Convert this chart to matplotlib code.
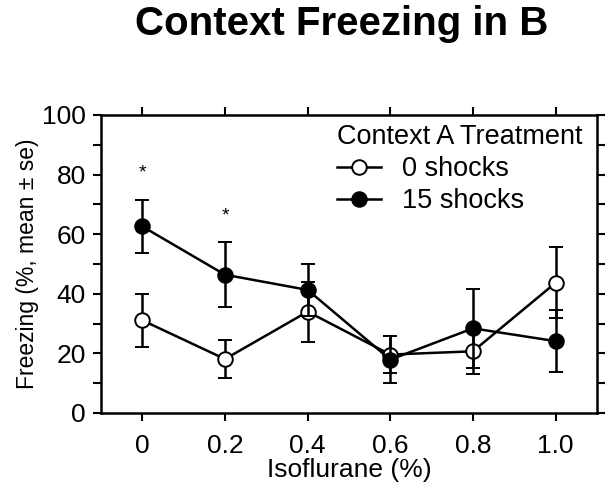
import matplotlib
matplotlib.use('Agg')
import matplotlib.pyplot as plt
from matplotlib.ticker import MultipleLocator
from matplotlib.lines import Line2D
import numpy as np

plt.rcParams['font.family'] = ['Liberation Sans', 'DejaVu Sans']

# data
iso = [0, 0.2, 0.4, 0.6, 0.8, 1.0]
iso_labels = ['0', '0.2', '0.4', '0.6', '0.8', '1.0']
zero_mean = [31.1, 18.1, 34.0, 19.6, 20.7, 43.7]
zero_se = [8.8, 6.5, 10.1, 6.1, 7.5, 11.9]
fifteen_mean = [62.6, 46.4, 41.3, 17.9, 28.4, 24.1]
fifteen_se = [8.8, 10.9, 8.8, 7.8, 13.2, 10.3]
star_x = [0, 0.2]
star_y = [80.5, 66.0]

fig = plt.figure(figsize=(6.15, 4.95), dpi=100)
ax = fig.add_axes([0.1642, 0.1657, 0.8065, 0.602])

ax.errorbar(iso, zero_mean, yerr=zero_se, color='black', lw=1.8,
            marker='o', ms=10.5, mfc='white', mec='black', mew=1.4,
            capsize=5, capthick=1.8, elinewidth=1.8, zorder=3)
ax.errorbar(iso, fifteen_mean, yerr=fifteen_se, color='black', lw=1.8,
            marker='o', ms=10.5, mfc='black', mec='black', mew=1.4,
            capsize=5, capthick=1.8, elinewidth=1.8, zorder=4)

for sx, sy in zip(star_x, star_y):
    ax.text(sx, sy, '*', ha='center', va='center', fontsize=14)

ax.set_xlim(-0.1, 1.1)
ax.set_ylim(0, 100)
ax.set_xticks(iso)
ax.set_xticklabels(iso_labels)
ax.yaxis.set_major_locator(MultipleLocator(20))
ax.yaxis.set_minor_locator(MultipleLocator(10))

ax.tick_params(which='both', direction='out', length=6, width=1.5,
               labelsize=19, top=True, right=True, pad=5)
ax.tick_params(axis='x', pad=9)
for s in ax.spines.values():
    s.set_linewidth(1.8)

ax.set_xlabel('Isoflurane (%)', fontsize=19, labelpad=0)
ax.set_ylabel('Freezing (%, mean \u00b1 se)', fontsize=16.5, labelpad=2)

handles = [
    Line2D([], [], color='black', lw=1.8, marker='o', ms=10.5,
           mfc='white', mec='black', mew=1.4),
    Line2D([], [], color='black', lw=1.8, marker='o', ms=10.5,
           mfc='black', mec='black', mew=1.4),
]
leg = ax.legend(handles, ['0 shocks', '15 shocks'], title='Context A Treatment',
                loc='upper left', bbox_to_anchor=(0.455, 1.005), frameon=False,
                fontsize=19.5, title_fontsize=19.5, handlelength=1.6,
                handletextpad=0.8, labelspacing=0.22, borderaxespad=0.0)
leg._legend_box.align = 'left'

fig.suptitle('Context Freezing in B', x=0.555, y=0.99, fontsize=29,
             fontweight='bold')

fig.savefig('out.png', dpi=100)
